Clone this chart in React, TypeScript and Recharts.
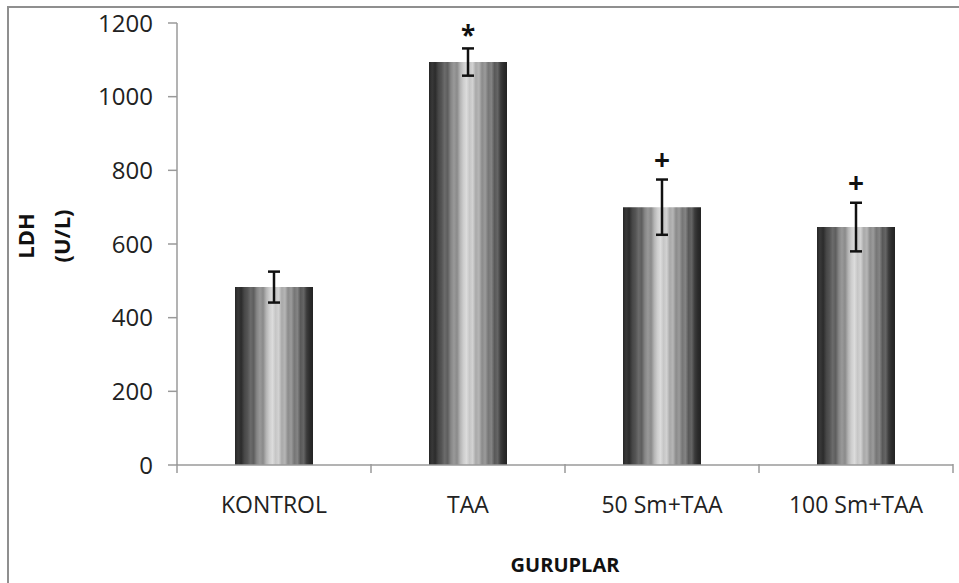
import { BarChart, Bar, XAxis, YAxis, ErrorBar, LabelList, Label } from "recharts";

const groups = ["KONTROL", "TAA", "50 Sm+TAA", "100 Sm+TAA"];
const ldh = [483, 1094, 700, 646];
const ldhErr = [42, 37, 75, 66];
const marks = ["", "*", "+", "+"];
const yTicks = [0, 200, 400, 600, 800, 1000, 1200];

const data = groups.map((g, i) => ({
  group: g,
  ldh: ldh[i],
  err: ldhErr[i],
  mark: marks[i],
}));

const FONT = "'Open Sans', sans-serif";
const AXIS = "#9a9a9a";

// striped grey cylinder look
const stops = [
  "#262626", "#383838", "#2c2c2c", "#474747", "#545454", "#6b6b6b",
  "#5e5e5e", "#868686", "#999999", "#8a8a8a", "#b4b4b4", "#cdcdcd",
  "#dcdcdc", "#c6c6c6", "#d2d2d2", "#a9a9a9", "#b6b6b6", "#8b8b8b",
  "#9b9b9b", "#767676", "#848484", "#595959", "#656565", "#3b3b3b",
  "#2b2b2b", "#232323",
];

const XTick = ({ x, y, payload, index }: any) => {
  const half = payload?.offset || 97;
  return (
    <g>
      <line x1={x - half} y1={y - 9} x2={x - half} y2={y} stroke={AXIS} strokeWidth={1.5} />
      {index === groups.length - 1 && (
        <line x1={x + half} y1={y - 9} x2={x + half} y2={y} stroke={AXIS} strokeWidth={1.5} />
      )}
      <text x={x} y={y + 40} textAnchor="middle" fontSize={23} fill="#222" fontFamily={FONT}>
        {payload.value}
      </text>
    </g>
  );
};

const MarkLabel = ({ x, y, width, height, value, index }: any) => {
  if (!value) return null;
  const d = data[index];
  const perUnit = height / d.ldh;
  const top = y - d.err * perUnit;
  return (
    <text
      x={x + width / 2}
      y={top - (value === "*" ? 3 : 10)}
      textAnchor="middle"
      fontSize={value === "*" ? 26 : 28}
      fontWeight="bold"
      fontFamily={FONT}
      fill="#111"
    >
      {value}
    </text>
  );
};

const YTitle = ({ viewBox }: any) => {
  const cy = viewBox.y + viewBox.height / 2 - 8;
  return (
    <g fontFamily={FONT} fontSize={22} fontWeight="bold" fill="#111">
      <text x={viewBox.x + 34} y={cy} textAnchor="middle" transform={`rotate(-90, ${viewBox.x + 34}, ${cy})`}>
        LDH
      </text>
      <text x={viewBox.x + 70} y={cy} textAnchor="middle" transform={`rotate(-90, ${viewBox.x + 70}, ${cy})`}>
        (U/L)
      </text>
    </g>
  );
};

export default function App() {
  return (
    <div
      style={{
        position: "absolute",
        left: 0,
        top: 0,
        width: 959,
        height: 583,
        background: "#fff",
        overflow: "hidden",
      }}
    >
      <div
        style={{
          position: "absolute",
          left: 7,
          top: 6,
          width: 1000,
          height: 700,
          borderLeft: "2px solid #8f8f8f",
          borderTop: "2px solid #8f8f8f",
        }}
      />
      <div style={{ position: "absolute", left: 0, top: 0 }}>
        <BarChart
          width={959}
          height={583}
          data={data}
          margin={{ top: 23, right: 6, left: 0, bottom: 0 }}
        >
          <defs>
            <linearGradient id="barGrad" x1="0" y1="0" x2="1" y2="0">
              {stops.map((c, i) => (
                <stop key={i} offset={`${(i / (stops.length - 1)) * 100}%`} stopColor={c} />
              ))}
            </linearGradient>
          </defs>
          <XAxis
            dataKey="group"
            height={118}
            interval={0}
            tickLine={false}
            axisLine={{ stroke: AXIS, strokeWidth: 1.5 }}
            tick={<XTick />}
          >
            <Label
              value="GURUPLAR"
              position="insideBottom"
              offset={11}
              fontSize={20}
              fontWeight="bold"
              fontFamily={FONT}
              fill="#111"
            />
          </XAxis>
          <YAxis
            width={177}
            domain={[0, 1200]}
            ticks={yTicks}
            interval={0}
            tickSize={9}
            tickMargin={15}
            tickLine={{ stroke: AXIS, strokeWidth: 1.5 }}
            axisLine={{ stroke: AXIS, strokeWidth: 1.5 }}
            tick={{ fontSize: 24, fill: "#222", fontFamily: FONT }}
          >
            <Label content={<YTitle />} />
          </YAxis>
          <Bar dataKey="ldh" fill="url(#barGrad)" barSize={78} isAnimationActive={false}>
            <ErrorBar dataKey="err" width={6} stroke="#111" strokeWidth={2.5} />
            <LabelList dataKey="mark" content={<MarkLabel />} />
          </Bar>
        </BarChart>
      </div>
    </div>
  );
}
